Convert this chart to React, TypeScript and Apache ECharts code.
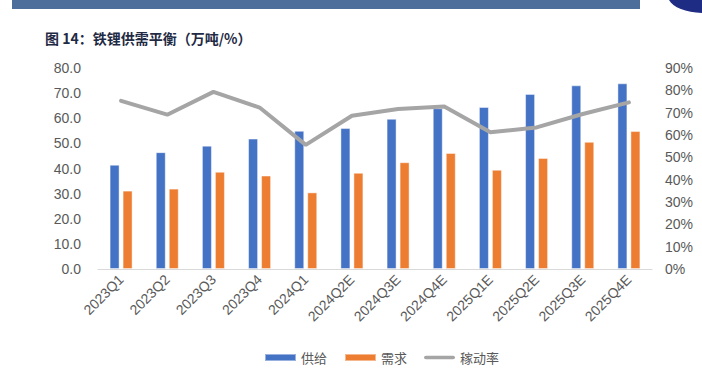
import React, { useEffect, useRef } from "react";
import * as echarts from "echarts";

const categories = [
  "2023Q1", "2023Q2", "2023Q3", "2023Q4", "2024Q1", "2024Q2E",
  "2024Q3E", "2024Q4E", "2025Q1E", "2025Q2E", "2025Q3E", "2025Q4E",
];
const supply = [41.5, 46.5, 49.1, 51.9, 55.0, 56.1, 59.8, 64.0, 64.5, 69.7, 73.1, 73.9];
const demand = [31.2, 32.0, 38.7, 37.2, 30.5, 38.3, 42.5, 46.2, 39.5, 44.2, 50.6, 54.9];
const utilization = [75.3, 69.1, 79.3, 72.3, 55.6, 68.6, 71.6, 72.8, 61.2, 63.4, 69.4, 74.6];

const titleText = "图 14：铁锂供需平衡（万吨/%）";
const seriesNames = ["供给", "需求", "稼动率"];

export default function App() {
  const ref = useRef<HTMLDivElement>(null);
  useEffect(() => {
    if (!ref.current) return;
    const chart = echarts.init(ref.current, null, { renderer: "svg" });
    const axisFont = "Arial, 'Liberation Sans', sans-serif";
    chart.setOption({
      animation: false,
      backgroundColor: "#ffffff",
      graphic: [
        { type: "rect", shape: { x: 12, y: 0, width: 628, height: 9 }, style: { fill: "#4D6D9A" } },
        { type: "ellipse", shape: { cx: 704, cy: -4, rx: 36, ry: 17 }, style: { fill: "#1E2C84" } },
        {
          type: "text",
          left: 45,
          top: 31,
          style: {
            text: titleText,
            fill: "#1F2A44",
            font: "bold 14px 'Noto Sans CJK SC', sans-serif",
          },
        },
      ],
      legend: {
        left: 259,
        top: 346,
        itemWidth: 31,
        itemHeight: 7,
        itemGap: 17,
        textStyle: { color: "#595959", fontSize: 13, fontFamily: "'Noto Sans CJK SC', sans-serif" },
        data: [
          { name: seriesNames[0], icon: "rect" },
          { name: seriesNames[1], icon: "rect" },
          { name: seriesNames[2], icon: "path://M2,0 L32,0 A2,2 0 0 1 32,4 L2,4 A2,2 0 0 1 2,0 Z" },
        ],
      },
      grid: { left: 98, right: 50, top: 68, bottom: 115 },
      xAxis: {
        type: "category",
        data: categories,
        axisLine: { lineStyle: { color: "#D9D9D9", width: 1 } },
        axisTick: { show: false },
        axisLabel: {
          rotate: 45,
          interval: 0,
          color: "#595959",
          fontSize: 14,
          fontFamily: axisFont,
          margin: 8,
        },
      },
      yAxis: [
        {
          type: "value",
          min: 0,
          max: 80,
          interval: 10,
          splitLine: { show: false },
          axisLine: { show: false },
          axisTick: { show: false },
          axisLabel: {
            color: "#595959",
            fontSize: 14,
            fontFamily: axisFont,
            margin: 17,
            formatter: (v: number) => v.toFixed(1),
          },
        },
        {
          type: "value",
          min: 0,
          max: 90,
          interval: 10,
          splitLine: { show: false },
          axisLine: { show: false },
          axisTick: { show: false },
          axisLabel: {
            color: "#595959",
            fontSize: 14,
            fontFamily: axisFont,
            margin: 13,
            formatter: (v: number) => v + "%",
          },
        },
      ],
      series: [
        {
          name: seriesNames[0],
          type: "bar",
          data: supply,
          barWidth: 10,
          barGap: "30%",
          itemStyle: { color: "#4472C4", borderColor: "rgba(255,255,255,0.45)", borderWidth: 1 },
        },
        {
          name: seriesNames[1],
          type: "bar",
          data: demand,
          barWidth: 10,
          barGap: "30%",
          itemStyle: { color: "#ED7D31", borderColor: "rgba(255,255,255,0.45)", borderWidth: 1 },
        },
        {
          name: seriesNames[2],
          type: "line",
          yAxisIndex: 1,
          data: utilization,
          symbol: "none",
          lineStyle: { color: "#A5A5A5", width: 4, cap: "round" },
          itemStyle: { color: "#A5A5A5" },
        },
      ],
    });
    return () => chart.dispose();
  }, []);
  return <div ref={ref} style={{ width: 702, height: 384, position: "absolute", left: 0, top: 0 }} />;
}
